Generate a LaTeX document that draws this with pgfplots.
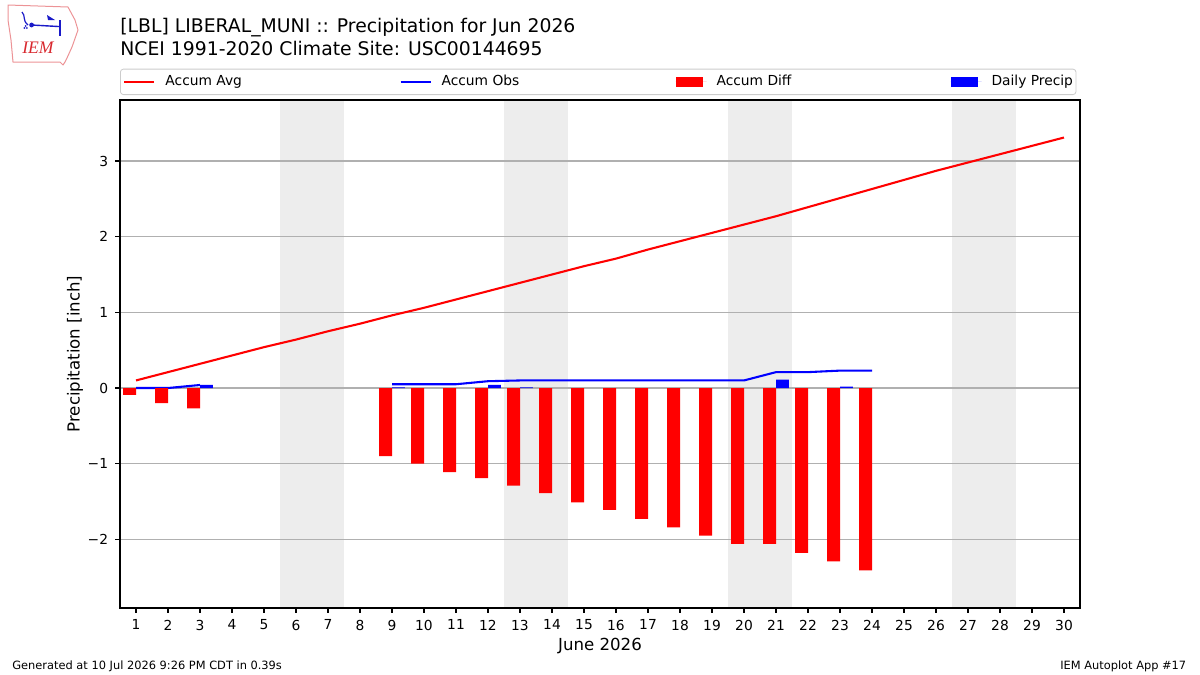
\documentclass[border=0pt]{standalone}
\usepackage{pgfplots}
\pgfplotsset{compat=1.18}
\usepackage{pgfplotstable}
\usepackage{fontspec}
\setmainfont{DejaVu Sans}
\newfontfamily\logofont{Liberation Serif}

\definecolor{wkend}{HTML}{EDEDED}
\definecolor{gridgray}{HTML}{B0B0B0}
\definecolor{logored}{HTML}{D8282E}
\definecolor{logoblue}{HTML}{1A1AC8}

% Daily accumulated precipitation (inch) for June 2026
\pgfplotstableread{
day avg  obs  diff   daily
1   0.10 0.00 -0.09  0
2   0.21 0.00 -0.20  0
3   0.32 0.04 -0.27  0.04
4   0.43 nan  nan    nan
5   0.54 nan  nan    nan
6   0.64 nan  nan    nan
7   0.75 nan  nan    nan
8   0.85 nan  nan    nan
9   0.96 0.05 -0.90  0.01
10  1.06 0.05 -1.00  nan
11  1.17 0.05 -1.11  nan
12  1.28 0.09 -1.19  0.04
13  1.39 0.10 -1.29  0.01
14  1.50 0.10 -1.39  nan
15  1.61 0.10 -1.51  nan
16  1.71 0.10 -1.61  nan
17  1.83 0.10 -1.73  nan
18  1.94 0.10 -1.84  nan
19  2.05 0.10 -1.95  nan
20  2.16 0.10 -2.06  nan
21  2.27 0.21 -2.06  0.11
22  2.39 0.21 -2.18  nan
23  2.51 0.23 -2.29  0.02
24  2.63 0.23 -2.41  nan
25  2.75 nan  nan    nan
26  2.87 nan  nan    nan
27  2.98 nan  nan    nan
28  3.09 nan  nan    nan
29  3.20 nan  nan    nan
30  3.31 nan  nan    nan
}\precip

\newcommand{\legtxt}[1]{\makebox[117pt][l]{#1}}

\pgfplotsset{
  linelegend/.style={legend image code/.code={\draw[#1, line width=1.04pt] (0pt,0pt) -- (15pt,0pt);}},
  barlegend/.style={legend image code/.code={\fill[#1, sharp corners] (0pt,-2.5pt) rectangle (13.5pt,2.5pt);
    \path (0pt,0pt) -- (15.5pt,0pt);}},
}

\begin{document}
\begin{tikzpicture}
% logo
\draw[logored!50, line width=0.5pt, line join=round]
  (4pt,-2.5pt) -- (34pt,-3.5pt) -- (37.5pt,-10pt) -- (39pt,-15pt) -- (36pt,-23.5pt)
  -- (33.5pt,-29pt) -- (32.5pt,-31pt) -- (31.5pt,-32.5pt) -- (30pt,-31pt)
  -- (6.5pt,-31pt) -- (5.5pt,-20pt) -- (4pt,-10pt) -- cycle;
\draw[logoblue, line width=0.7pt] (15.8pt,-12.5pt) -- (30pt,-13.3pt);
\draw[logoblue, line width=0.6pt] (11pt,-6pt) .. controls (13pt,-8pt) and (11pt,-10pt) .. (14pt,-12.5pt);
\fill[logoblue] (23.5pt,-7.5pt) -- (27.5pt,-10pt) -- (24pt,-10pt) -- cycle;
\draw[logoblue, line width=0.6pt] (30pt,-10pt) -- (30pt,-18pt);
\fill[logoblue] (15.8pt,-12.5pt) circle (1.2pt);
\fill[logoblue] (12.2pt,-14pt) circle (0.5pt) (13.4pt,-14pt) circle (0.5pt) (12.8pt,-13pt) circle (0.5pt);
\node[anchor=base, text=logored, inner sep=0pt, font=\logofont\itshape\fontsize{8.8}{10}\selectfont] at (19pt,-26.5pt) {IEM};

% titles
\node[anchor=base west, inner sep=0pt, font=\fontsize{9.4}{11}\selectfont] at (60pt,-16pt)
  {[LBL] LIBERAL\_MUNI :: Precipitation for Jun 2026};
\node[anchor=base west, inner sep=0pt, font=\fontsize{9.4}{11}\selectfont] at (60pt,-27.5pt)
  {NCEI 1991-2020 Climate Site: USC00144695};

\begin{axis}[
  at={(60pt,-304pt)}, anchor=south west,
  scale only axis, width=480pt, height=254pt,
  set layers,
  xmin=0.5, xmax=30.5, ymin=-2.907, ymax=3.806,
  xtick={1,...,30},
  ytick={-2,-1,0,1,2,3},
  yticklabels={−2,−1,0,1,2,3},
  xtick pos=bottom, ytick pos=left,
  tick align=outside, major tick length=2.43pt,
  every tick/.style={black, line width=0.556pt},
  axis line style={line width=0.556pt},
  ymajorgrids, grid style={gridgray, line width=0.556pt},
  /pgf/number format/assume math mode=true,
  tick label style={font=\fontsize{6.9}{8}\selectfont},
  xlabel={June 2026},
  ylabel={Precipitation [inch]},
  label style={font=\fontsize{8.3}{10}\selectfont},
  xlabel style={at={(axis description cs:0.5,0)}, anchor=center, yshift=-19pt},
  ylabel style={at={(axis description cs:0,0.5)}, anchor=center, yshift=22.5pt},
  unbounded coords=jump,
  legend columns=4,
  legend style={at={(0,1)}, anchor=south west, yshift=2.5pt,
    draw=black!20, rounded corners=1.5pt,
    font=\fontsize{6.9}{8}\selectfont,
    inner xsep=1.5pt, inner ysep=3pt,
    /tikz/every odd column/.style={column sep=5pt},
    /tikz/every even column/.style={column sep=0pt},
    nodes={inner sep=0pt}},
]
% weekend shading
\begin{pgfonlayer}{axis background}
\fill[wkend] (axis cs:5.5,-2.907) rectangle (axis cs:7.5,3.806);
\fill[wkend] (axis cs:12.5,-2.907) rectangle (axis cs:14.5,3.806);
\fill[wkend] (axis cs:19.5,-2.907) rectangle (axis cs:21.5,3.806);
\fill[wkend] (axis cs:26.5,-2.907) rectangle (axis cs:28.5,3.806);
\end{pgfonlayer}

\addplot[red, line width=1.04pt, mark=none, linelegend=red]
  table[x=day, y=avg] {\precip};
\addlegendentry{\legtxt{Accum Avg}}

\addplot[blue, line width=1.04pt, mark=none, linelegend=blue]
  table[x=day, y=obs] {\precip};
\addlegendentry{\legtxt{Accum Obs}}

\addplot[ybar, bar width=0.4, bar shift=-0.2, fill=red, draw=none, barlegend=red]
  table[x=day, y=diff] {\precip};
\addlegendentry{\legtxt{Accum Diff}}

\addplot[ybar, bar width=0.4, bar shift=0.2, fill=blue, draw=none, barlegend=blue]
  table[x=day, y=daily] {\precip};
\addlegendentry{Daily Precip\hspace{3.5pt}}
\end{axis}

% footer
\node[anchor=base west, inner sep=0pt, font=\fontsize{5.7}{7}\selectfont] at (6pt,-334.5pt)
  {Generated at 10 Jul 2026 9:26 PM CDT in 0.39s};
\node[anchor=base east, inner sep=0pt, font=\fontsize{5.7}{7}\selectfont] at (593.3pt,-334.5pt)
  {IEM Autoplot App \#17};
\path[use as bounding box] (0pt,0pt) rectangle (600pt,-337.5pt);
\end{tikzpicture}
\end{document}
